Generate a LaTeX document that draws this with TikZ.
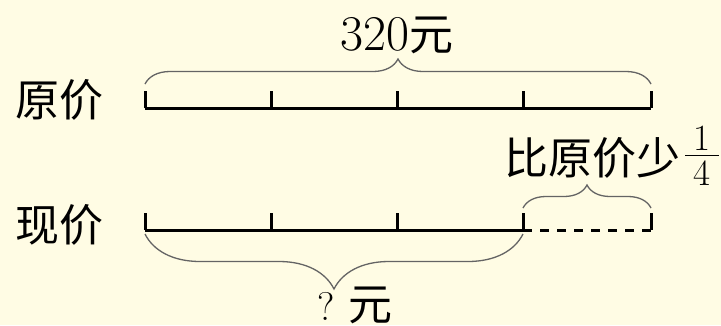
\documentclass[tikz,border=0pt]{standalone}
\usepackage{fontspec}
\newfontfamily\cjk{Noto Sans CJK SC}
\usepackage{tikz}
\usetikzlibrary{decorations.pathreplacing}
\definecolor{fondo}{RGB}{255,252,228}
\definecolor{llave}{RGB}{100,100,100}
\tikzset{
  rotulo/.style={font=\fontsize{44}{48}\selectfont, inner sep=0pt},
  cifra/.style={font=\fontsize{37}{39}\selectfont, inner sep=0pt},
  llaveup/.style={draw=llave, line width=1.3pt, decorate, decoration={brace, amplitude=#1}}
}
\begin{document}
\begin{tikzpicture}[x=1pt, y=-1pt, line width=3pt]
    \fill[fondo] (0,0) rectangle (721,325);
    \useasboundingbox (0,0) rectangle (721,325);
    % ticks of both bars
    \foreach \i/\x in {0/145,1/271,2/397,3/523,4/651}{
        \coordinate (A\i) at (\x,108);
        \coordinate (B\i) at (\x,230);
        \draw (A\i) -- ++(0,-17);
        \draw (B\i) -- ++(0,-17);
    }
    % original price bar
    \draw (A0) -- (A4);
    % present price bar, last part dashed
    \draw (B0) -- (B3);
    \draw[dash pattern=on 9pt off 8pt] (B3) -- (B4);
    % labels
    \node[rotulo] (yuanjia) at (60,100) {\cjk 原价};
    \node[rotulo] (xianjia) at (60,225) {\cjk 现价};
    \node[rotulo] (total) at (397,35) {{\fontsize{50}{52}\selectfont 320}\cjk 元};
    \node[rotulo, anchor=west] (shao) at (503,158) {\cjk 比原价少};
    % fraction 1/4
    \coordinate (barra) at (702,155);
    \node[cifra, anchor=south] (num) at ([yshift=3pt]barra) {1};
    \node[cifra, anchor=north] (den) at ([yshift=-4pt]barra) {4};
    \draw[line width=1pt] ([xshift=-17pt]barra) -- ([xshift=17pt]barra);
    \node[rotulo] (wen) at (355,305) {{\fontsize{40}{42}\selectfont ?}\hspace{13pt}\cjk 元};
    % braces
    \draw[llaveup=25pt] ([yshift=24pt]A0) -- ([yshift=24pt]A4);
    \draw[llaveup=23pt] ([yshift=22pt]B3) -- ([yshift=22pt]B4);
    \draw[llaveup=55pt] ([yshift=-4pt]B3) -- ([yshift=-4pt]B0);
\end{tikzpicture}
\end{document}
